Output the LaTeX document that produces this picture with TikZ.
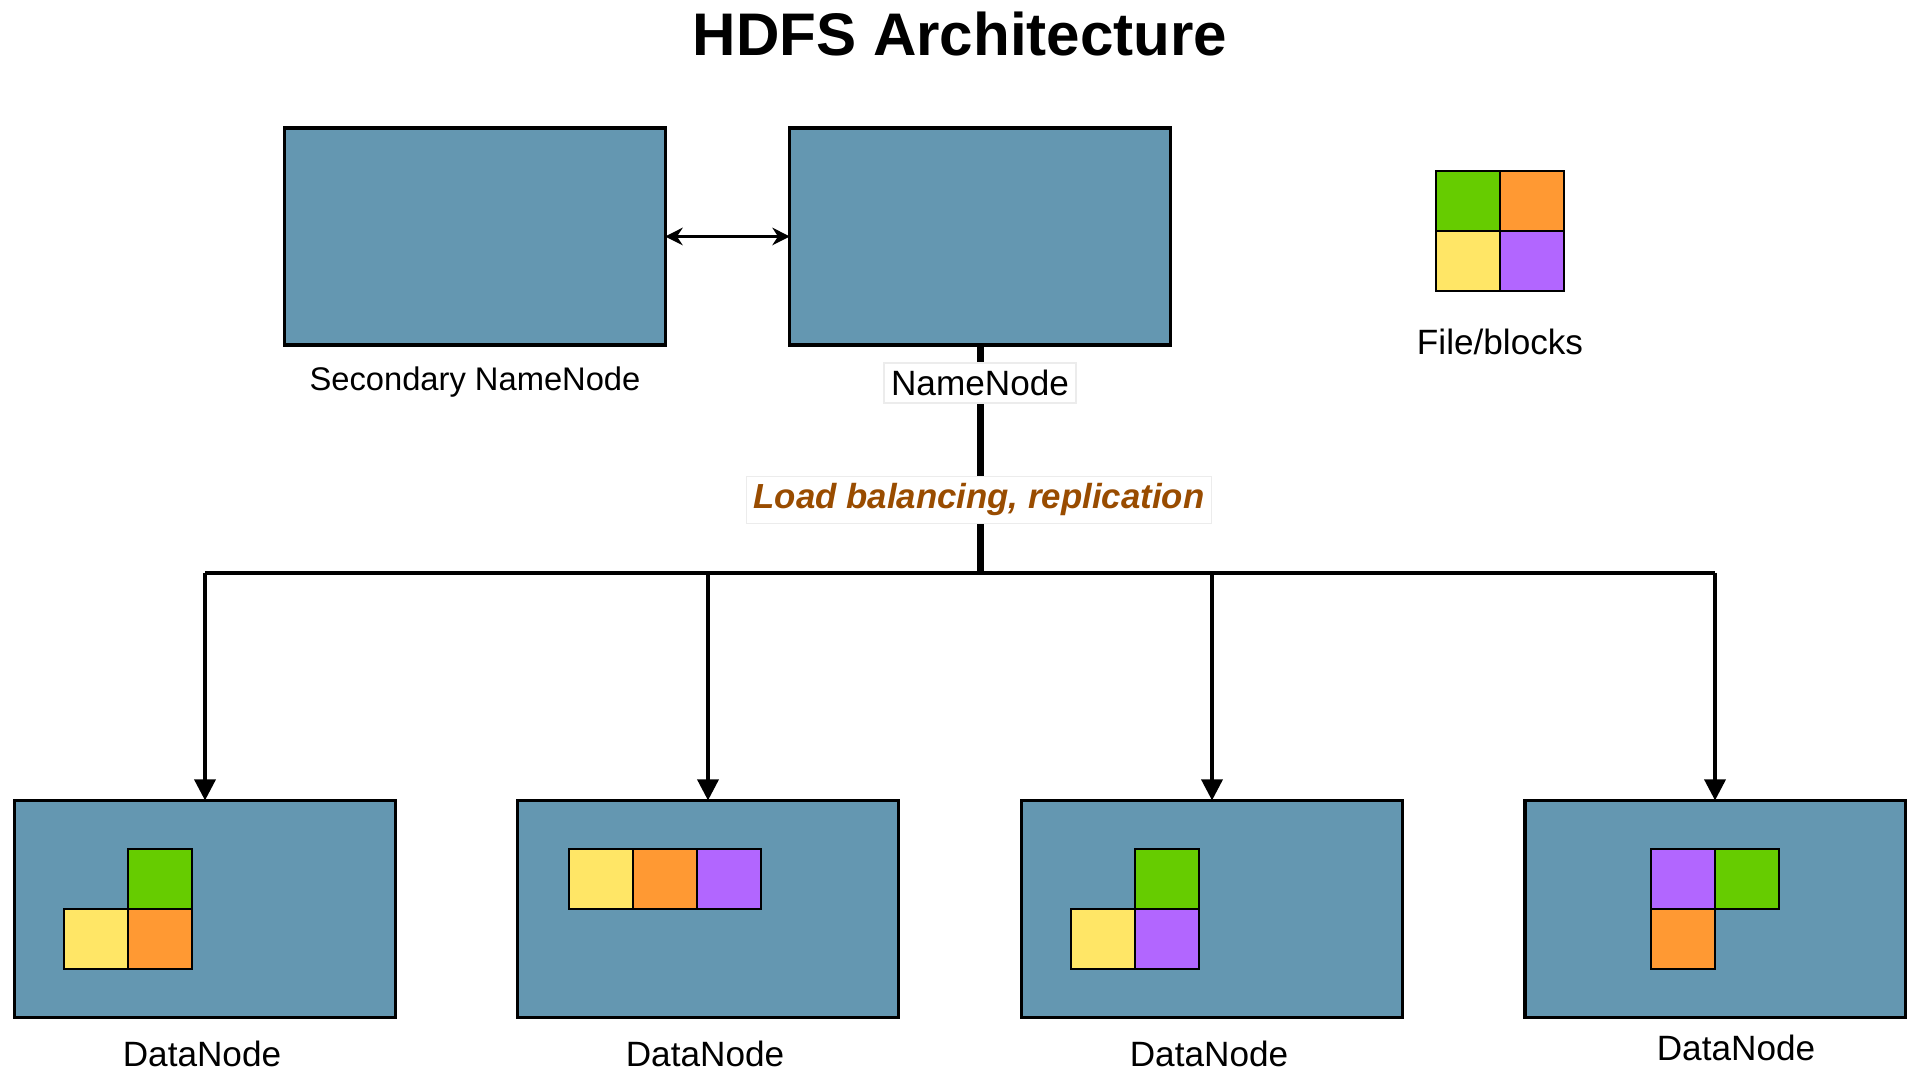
\documentclass[tikz,border=0pt]{standalone}
\usepackage{fontspec}
\setmainfont{Liberation Sans}
\usetikzlibrary{arrows.meta,positioning}
\definecolor{nodeblue}{RGB}{100,151,177}
\definecolor{blkgreen}{RGB}{102,204,0}
\definecolor{blkorange}{RGB}{255,153,51}
\definecolor{blkyellow}{RGB}{255,230,102}
\definecolor{blkpurple}{RGB}{178,102,255}
\definecolor{notebrown}{RGB}{153,76,0}

\begin{document}
\begin{tikzpicture}[
    x=0.01cm, y=-0.01cm,
    server/.style={rectangle, draw, line width=0.9pt, fill=nodeblue, minimum width=3.8cm, minimum height=2.17cm, outer sep=0pt},
    blk/.style={rectangle, draw, line width=0.5pt, minimum width=0.64cm, minimum height=0.6cm, inner sep=0pt, outer sep=0pt},
    lbl/.style={font=\fontsize{10}{12}\selectfont},
    tag/.style={rectangle, draw=gray!15, fill=white, inner sep=2pt},
    trunk/.style={line width=2pt},
    bus/.style={line width=1.1pt},
    drop/.style={-{Triangle[width=6pt,length=6pt]}, line width=1pt},
    sync/.style={{Stealth[width=5pt,length=5pt]}-{Stealth[width=5pt,length=5pt]}, line width=0.7pt}
]
\useasboundingbox (0,0) rectangle (1907,1071);

% Title
\node[font=\fontsize{17.1}{20}\selectfont\bfseries] (title) at (960,34) {HDFS Architecture};

% Name nodes
\node[server] (secondary) at (475,236.5) {};
\node[server] (namenode) at (980,236.5) {};
\draw[sync] (secondary) -- (namenode);

% Data nodes
\node[server] (dn1) at (205,909) {};
\node[server] (dn2) at (708,909) {};
\node[server] (dn3) at (1212,909) {};
\node[server] (dn4) at (1715,909) {};

% Connectors
\coordinate (hub) at (980,573);
\draw[trunk] (namenode.south) -- (hub);
\draw[bus] (hub -| dn1.north) -- (hub -| dn4.north);
\foreach \i in {1,...,4}
    \draw[drop] (hub -| dn\i.north) -- (dn\i.north);

% Labels
\node[lbl, font=\fontsize{9.3}{11}\selectfont] (seclabel) at (475,382) {Secondary NameNode};
\node[lbl, tag] (nnlabel) at (980,383) {NameNode};
\node[tag, font=\fontsize{9.9}{12}\selectfont\bfseries\itshape, text=notebrown] (balance) at (979,500) {Load balancing, replication};
\node[lbl] (dnlabel1) at (202,1054) {DataNode};
\node[lbl] (dnlabel2) at (705,1054) {DataNode};
\node[lbl] (dnlabel3) at (1209,1054) {DataNode};
\node[lbl] (dnlabel4) at (1736,1048) {DataNode};

% File blocks legend
\node[blk, fill=blkgreen] (lgreen) at (1468,201) {};
\node[blk, fill=blkorange, right=0pt of lgreen] (lorange) {};
\node[blk, fill=blkyellow, below=0pt of lgreen] (lyellow) {};
\node[blk, fill=blkpurple, below=0pt of lorange] (lpurple) {};
\node[lbl] (leglabel) at (1500,342) {File/blocks};

% Blocks on data node 1
\node[blk, fill=blkgreen] (b1g) at (160,879) {};
\node[blk, fill=blkyellow, below left=0pt and 0pt of b1g] (b1y) {};
\node[blk, fill=blkorange, below=0pt of b1g] (b1o) {};

% Blocks on data node 2
\node[blk, fill=blkyellow] (b2y) at (601,879) {};
\node[blk, fill=blkorange, right=0pt of b2y] (b2o) {};
\node[blk, fill=blkpurple, right=0pt of b2o] (b2p) {};

% Blocks on data node 3
\node[blk, fill=blkgreen] (b3g) at (1167,879) {};
\node[blk, fill=blkyellow, below left=0pt and 0pt of b3g] (b3y) {};
\node[blk, fill=blkpurple, below=0pt of b3g] (b3p) {};

% Blocks on data node 4
\node[blk, fill=blkpurple] (b4p) at (1683,879) {};
\node[blk, fill=blkgreen, right=0pt of b4p] (b4g) {};
\node[blk, fill=blkorange, below=0pt of b4p] (b4o) {};

\end{tikzpicture}
\end{document}
